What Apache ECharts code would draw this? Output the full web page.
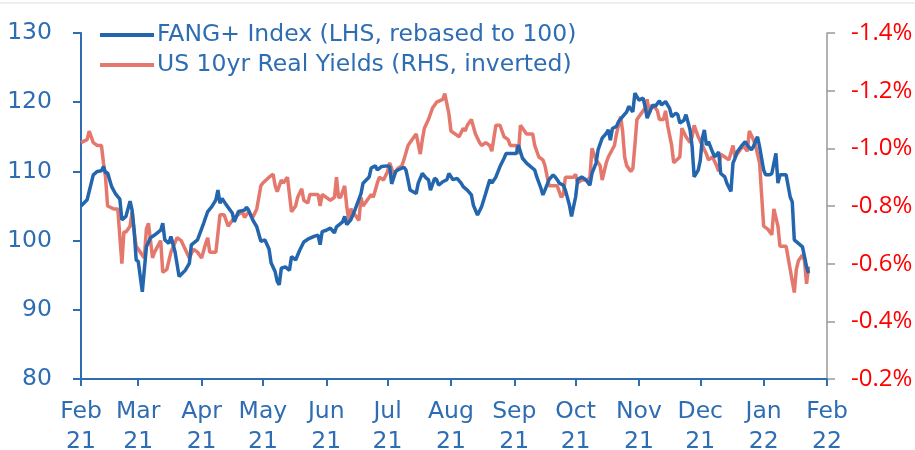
<!DOCTYPE html>
<html>
<head>
<meta charset="utf-8">
<script src="https://cdn.jsdelivr.net/npm/echarts@6/dist/echarts.min.js"></script>
<style>
  html, body { margin: 0; padding: 0; background: #fff; }
  #chart { width: 915px; height: 450px; }
</style>
</head>
<body>
<div id="chart"></div>
<script>
// FANG+ index, rebased to 100 (left axis)
const fangDates = [
  '2021-02-01','2021-02-04','2021-02-07','2021-02-09','2021-02-11','2021-02-12','2021-02-13','2021-02-14',
  '2021-02-16','2021-02-18','2021-02-20','2021-02-21','2021-02-23','2021-02-25','2021-02-26','2021-02-27',
  '2021-02-28','2021-03-01','2021-03-03','2021-03-05','2021-03-07','2021-03-09','2021-03-12','2021-03-13',
  '2021-03-14','2021-03-16','2021-03-17','2021-03-19','2021-03-21','2021-03-24','2021-03-26','2021-03-27',
  '2021-03-30','2021-04-02','2021-04-04','2021-04-06','2021-04-08','2021-04-09','2021-04-10','2021-04-11',
  '2021-04-13','2021-04-16','2021-04-17','2021-04-19','2021-04-22','2021-04-23','2021-04-24','2021-04-26',
  '2021-04-28','2021-04-30','2021-05-02','2021-05-04','2021-05-05','2021-05-07','2021-05-08','2021-05-09',
  '2021-05-10','2021-05-12','2021-05-14','2021-05-15','2021-05-17','2021-05-19','2021-05-21','2021-05-23',
  '2021-05-26','2021-05-28','2021-05-29','2021-05-30','2021-06-01','2021-06-03','2021-06-05','2021-06-06',
  '2021-06-09','2021-06-10','2021-06-11','2021-06-13','2021-06-15','2021-06-18','2021-06-19','2021-06-22',
  '2021-06-23','2021-06-25','2021-06-26','2021-06-28','2021-07-01','2021-07-02','2021-07-03','2021-07-05',
  '2021-07-06','2021-07-09','2021-07-10','2021-07-11','2021-07-12','2021-07-15','2021-07-16','2021-07-18',
  '2021-07-20','2021-07-21','2021-07-22','2021-07-24','2021-07-25','2021-07-26','2021-07-28','2021-07-30',
  '2021-07-31','2021-08-02','2021-08-04','2021-08-06','2021-08-07','2021-08-09','2021-08-11','2021-08-12',
  '2021-08-14','2021-08-16','2021-08-18','2021-08-20','2021-08-21','2021-08-23','2021-08-25','2021-08-27',
  '2021-08-28','2021-08-30','2021-09-02','2021-09-03','2021-09-05','2021-09-07','2021-09-09','2021-09-11',
  '2021-09-12','2021-09-14','2021-09-15','2021-09-16','2021-09-18','2021-09-20','2021-09-21','2021-09-22',
  '2021-09-23','2021-09-25','2021-09-26','2021-09-28','2021-09-29','2021-10-01','2021-10-02','2021-10-04',
  '2021-10-06','2021-10-08','2021-10-09','2021-10-11','2021-10-12','2021-10-14','2021-10-16','2021-10-17',
  '2021-10-18','2021-10-19','2021-10-21','2021-10-22','2021-10-24','2021-10-26','2021-10-27','2021-10-29',
  '2021-10-30','2021-11-01','2021-11-03','2021-11-04','2021-11-05','2021-11-07','2021-11-08','2021-11-09',
  '2021-11-11','2021-11-12','2021-11-14','2021-11-16','2021-11-17','2021-11-19','2021-11-20','2021-11-21',
  '2021-11-23','2021-11-24','2021-11-26','2021-11-27','2021-11-28','2021-11-30','2021-12-01','2021-12-02',
  '2021-12-03','2021-12-04','2021-12-05','2021-12-07','2021-12-08','2021-12-09','2021-12-10','2021-12-11',
  '2021-12-13','2021-12-14','2021-12-16','2021-12-17','2021-12-18','2021-12-19','2021-12-21','2021-12-23',
  '2021-12-24','2021-12-26','2021-12-27','2021-12-29','2021-12-30','2022-01-01','2022-01-02','2022-01-04',
  '2022-01-05','2022-01-07','2022-01-08','2022-01-09','2022-01-11','2022-01-12','2022-01-14','2022-01-15',
  '2022-01-16','2022-01-18','2022-01-20','2022-01-21','2022-01-22','2022-01-23'
];
const fangValues = [
  105.0,105.9,109.5,110.0,110.1,110.7,109.8,109.8,
  107.8,106.7,106.0,103.0,103.5,105.7,104.4,101.5,
  97.2,97.0,92.6,99.1,100.4,100.8,101.5,102.5,
  100.1,99.6,100.6,98.4,94.8,95.7,96.7,99.4,
  100.1,102.5,104.2,104.9,105.9,107.3,105.4,106.1,
  105.2,104.0,102.7,104.2,104.4,104.8,104.4,103.0,
  102.0,99.9,100.1,98.8,96.8,95.5,94.1,93.6,
  96.0,96.2,95.7,97.7,97.2,98.6,99.8,100.2,
  100.6,100.8,99.4,101.3,101.5,101.8,101.1,102.0,
  102.7,103.5,102.3,103.0,104.4,106.8,108.3,109.2,
  110.5,110.8,110.2,110.7,110.8,110.7,108.2,110.0,
  110.2,110.6,110.2,108.8,107.3,106.8,108.3,109.7,
  109.0,108.8,107.3,109.0,108.8,108.0,108.5,108.8,
  109.7,108.8,109.0,108.3,107.8,107.3,106.6,105.1,
  103.7,104.9,106.8,108.8,108.3,109.2,110.7,111.9,
  112.6,112.6,112.6,113.8,111.9,111.2,110.7,110.2,
  109.2,107.6,106.6,107.3,108.8,109.5,109.2,108.8,
  108.3,108.0,107.3,105.1,103.5,106.3,108.8,109.2,
  108.8,108.0,109.7,111.2,113.1,114.8,115.5,116.0,
  114.5,116.2,116.5,117.2,117.9,118.6,119.4,118.6,
  121.3,120.3,120.6,119.4,117.7,119.1,119.6,119.4,
  120.2,119.6,120.1,119.1,117.9,118.4,118.2,117.0,
  117.4,118.2,116.0,113.6,109.2,110.2,111.6,114.8,
  116.0,113.8,114.3,112.8,112.1,112.4,112.8,109.7,
  109.2,108.3,107.1,111.2,111.9,112.8,113.6,114.3,
  113.8,113.1,113.6,115.0,113.6,110.2,109.5,109.5,
  109.7,112.6,108.3,109.5,109.5,109.5,106.3,105.6,
  100.1,99.6,99.1,97.7,96.2,95.3
];

// US 10yr real yields, % (right axis, inverted)
const yieldDates = [
  '2021-02-01','2021-02-04','2021-02-05','2021-02-07','2021-02-09','2021-02-11','2021-02-12','2021-02-13',
  '2021-02-14','2021-02-17','2021-02-19','2021-02-21','2021-02-22','2021-02-23','2021-02-25','2021-02-26',
  '2021-02-27','2021-02-28','2021-03-02','2021-03-04','2021-03-05','2021-03-06','2021-03-08','2021-03-09',
  '2021-03-12','2021-03-13','2021-03-15','2021-03-17','2021-03-20','2021-03-22','2021-03-24','2021-03-26',
  '2021-03-28','2021-03-30','2021-04-01','2021-04-03','2021-04-04','2021-04-05','2021-04-08','2021-04-10',
  '2021-04-12','2021-04-14','2021-04-17','2021-04-19','2021-04-21','2021-04-22','2021-04-24','2021-04-26',
  '2021-04-28','2021-04-30','2021-05-01','2021-05-04','2021-05-06','2021-05-07','2021-05-08','2021-05-10',
  '2021-05-11','2021-05-13','2021-05-14','2021-05-15','2021-05-17','2021-05-18','2021-05-20','2021-05-21',
  '2021-05-23','2021-05-24','2021-05-27','2021-05-28','2021-05-29','2021-05-30','2021-06-01','2021-06-03',
  '2021-06-05','2021-06-06','2021-06-07','2021-06-08','2021-06-10','2021-06-11','2021-06-12','2021-06-13',
  '2021-06-14','2021-06-17','2021-06-18','2021-06-19','2021-06-21','2021-06-23','2021-06-24','2021-06-26',
  '2021-06-27','2021-06-29','2021-07-01','2021-07-02','2021-07-04','2021-07-06','2021-07-08','2021-07-09',
  '2021-07-11','2021-07-12','2021-07-14','2021-07-15','2021-07-17','2021-07-18','2021-07-19','2021-07-21',
  '2021-07-23','2021-07-25','2021-07-28','2021-07-29','2021-07-31','2021-08-01','2021-08-03','2021-08-05',
  '2021-08-07','2021-08-08','2021-08-09','2021-08-11','2021-08-13','2021-08-15','2021-08-16','2021-08-18',
  '2021-08-20','2021-08-21','2021-08-23','2021-08-25','2021-08-27','2021-08-29','2021-08-30','2021-09-02',
  '2021-09-03','2021-09-04','2021-09-06','2021-09-07','2021-09-10','2021-09-11','2021-09-13','2021-09-15',
  '2021-09-16','2021-09-18','2021-09-20','2021-09-22','2021-09-24','2021-09-25','2021-09-26','2021-09-29',
  '2021-09-30','2021-10-01','2021-10-02','2021-10-04','2021-10-07','2021-10-08','2021-10-09','2021-10-11',
  '2021-10-13','2021-10-14','2021-10-16','2021-10-17','2021-10-20','2021-10-21','2021-10-23','2021-10-24',
  '2021-10-25','2021-10-26','2021-10-28','2021-10-29','2021-10-30','2021-10-31','2021-11-02','2021-11-04',
  '2021-11-05','2021-11-06','2021-11-07','2021-11-09','2021-11-10','2021-11-11','2021-11-13','2021-11-14',
  '2021-11-15','2021-11-17','2021-11-18','2021-11-21','2021-11-22','2021-11-24','2021-11-26','2021-11-27',
  '2021-11-28','2021-11-30','2021-12-02','2021-12-04','2021-12-05','2021-12-07','2021-12-09','2021-12-10',
  '2021-12-11','2021-12-13','2021-12-15','2021-12-17','2021-12-18','2021-12-20','2021-12-22','2021-12-24',
  '2021-12-25','2021-12-27','2021-12-28','2021-12-30','2021-12-31','2022-01-01','2022-01-03','2022-01-05',
  '2022-01-06','2022-01-08','2022-01-09','2022-01-11','2022-01-12','2022-01-14','2022-01-16','2022-01-17',
  '2022-01-18','2022-01-20','2022-01-21','2022-01-22','2022-01-23'
];
const yieldValues = [
  -1.02,-1.03,-1.06,-1.02,-1.01,-1.01,-0.95,-0.90,
  -0.80,-0.79,-0.79,-0.60,-0.71,-0.71,-0.73,-0.78,
  -0.71,-0.66,-0.64,-0.62,-0.72,-0.74,-0.62,-0.64,
  -0.68,-0.57,-0.58,-0.64,-0.69,-0.68,-0.65,-0.62,
  -0.65,-0.64,-0.62,-0.67,-0.69,-0.64,-0.64,-0.77,
  -0.77,-0.73,-0.76,-0.77,-0.78,-0.76,-0.78,-0.76,
  -0.79,-0.87,-0.88,-0.90,-0.91,-0.87,-0.85,-0.89,
  -0.88,-0.90,-0.84,-0.78,-0.80,-0.83,-0.86,-0.82,
  -0.81,-0.84,-0.84,-0.84,-0.80,-0.84,-0.83,-0.82,
  -0.83,-0.90,-0.83,-0.83,-0.87,-0.80,-0.75,-0.79,
  -0.78,-0.75,-0.83,-0.80,-0.82,-0.84,-0.83,-0.88,
  -0.90,-0.89,-0.92,-0.95,-0.91,-0.93,-0.94,-0.96,
  -1.01,-1.02,-1.04,-1.05,-0.98,-1.03,-1.07,-1.10,
  -1.14,-1.16,-1.17,-1.19,-1.12,-1.06,-1.05,-1.04,
  -1.07,-1.06,-1.08,-1.10,-1.05,-1.02,-1.01,-1.02,
  -1.01,-0.99,-1.08,-1.08,-1.04,-1.03,-1.01,-1.01,
  -0.98,-1.08,-1.06,-1.05,-1.05,-1.01,-0.97,-0.96,
  -0.94,-0.87,-0.87,-0.87,-0.83,-0.84,-0.90,-0.90,
  -0.90,-0.91,-0.88,-0.89,-0.89,-0.90,-1.00,-0.96,
  -0.94,-0.89,-0.95,-0.97,-1.01,-1.05,-1.11,-1.06,
  -0.97,-0.94,-0.92,-0.93,-1.01,-1.10,-1.12,-1.14,
  -1.17,-1.12,-1.15,-1.14,-1.13,-1.10,-1.10,-1.13,
  -1.08,-1.01,-0.95,-0.97,-1.07,-1.04,-1.02,-1.04,
  -1.08,-1.04,-1.01,-0.98,-0.96,-0.97,-0.94,-0.92,
  -0.98,-0.97,-0.96,-1.01,-0.97,-0.99,-1.01,-0.99,
  -1.06,-1.03,-1.01,-0.95,-0.84,-0.73,-0.72,-0.70,
  -0.79,-0.73,-0.66,-0.66,-0.66,-0.58,-0.50,-0.58,
  -0.61,-0.63,-0.61,-0.53,-0.59
];

const monthNames = ['Jan','Feb','Mar','Apr','May','Jun','Jul','Aug','Sep','Oct','Nov','Dec'];
const fangName = 'FANG+ Index (LHS, rebased to 100)';
const yieldName = 'US 10yr Real Yields (RHS, inverted)';

const textBlue = '#2f6db3';
const wideFont = '"DejaVu Sans", sans-serif';
const narrowFont = '"Open Sans", sans-serif';

const chart = echarts.init(document.getElementById('chart'));

const option = {
  animation: false,
  textStyle: { fontFamily: wideFont },
  grid: { left: 81, right: 88, top: 33, bottom: 71, containLabel: false, outerBoundsMode: 'none' },
  legend: {
    orient: 'vertical',
    left: 95,
    top: 17,
    icon: 'rect',
    itemWidth: 54,
    itemHeight: 4,
    itemGap: 4,
    selectedMode: false,
    textStyle: {
      color: textBlue,
      fontFamily: wideFont,
      fontSize: 23.5,
      lineHeight: 26,
      padding: [0, 0, 0, -2],
    },
    data: [fangName, yieldName],
  },
  graphic: [
    {
      type: 'line',
      shape: { x1: 0, y1: 3, x2: 915, y2: 3 },
      style: { stroke: '#dddddd', lineWidth: 1 },
      silent: true,
    },
  ],
  xAxis: {
    type: 'time',
    min: '2021-02-01',
    max: '2022-02-01',
    minInterval: 28 * 86400000,
    maxInterval: 31 * 86400000,
    axisLine: { lineStyle: { color: textBlue, width: 2 } },
    axisTick: { show: true, length: 7, lineStyle: { color: textBlue, width: 2 } },
    splitLine: { show: false },
    axisLabel: {
      color: textBlue,
      fontFamily: wideFont,
      fontSize: 23.5,
      lineHeight: 30,
      margin: 18,
      showMinLabel: true,
      showMaxLabel: true,
      hideOverlap: false,
      formatter: value => {
        const d = new Date(value);
        return monthNames[d.getMonth()] + '\n' + String(d.getFullYear()).slice(2);
      },
    },
  },
  yAxis: [
    {
      type: 'value',
      min: 80,
      max: 130,
      interval: 10,
      axisLine: { show: true, lineStyle: { color: textBlue, width: 2 } },
      axisTick: { show: true, length: 8, lineStyle: { color: textBlue, width: 2 } },
      splitLine: { show: false },
      axisLabel: { color: textBlue, fontFamily: wideFont, fontSize: 23.5, margin: 29 },
    },
    {
      type: 'value',
      min: -1.4,
      max: -0.2,
      interval: 0.2,
      inverse: true,
      position: 'right',
      axisLine: { show: true, lineStyle: { color: '#999999', width: 1.5 } },
      axisTick: { show: true, length: 8, lineStyle: { color: '#999999', width: 1.5 } },
      splitLine: { show: false },
      axisLabel: {
        color: '#ff0000',
        fontFamily: narrowFont,
        fontSize: 24,
        margin: 24,
        formatter: v => v.toFixed(1) + '%',
      },
    },
  ],
  series: [
    {
      name: fangName,
      type: 'line',
      yAxisIndex: 0,
      showSymbol: false,
      z: 3,
      lineStyle: { color: '#2366ae', width: 3.5 },
      itemStyle: { color: '#2366ae' },
      data: fangDates.map((d, i) => [d, fangValues[i]]),
    },
    {
      name: yieldName,
      type: 'line',
      yAxisIndex: 1,
      showSymbol: false,
      z: 2,
      lineStyle: { color: '#e5786c', width: 3.5 },
      itemStyle: { color: '#e5786c' },
      data: yieldDates.map((d, i) => [d, yieldValues[i]]),
    },
  ],
};

chart.setOption(option);
</script>
</body>
</html>
